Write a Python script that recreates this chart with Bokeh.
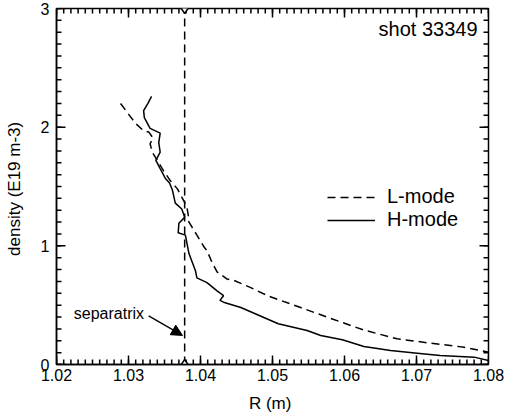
import numpy as np
from bokeh.plotting import figure
from bokeh.models import (Range1d, SingleIntervalTicker, Label, Arrow,
                          NormalHead, Legend, LegendItem)
from bokeh.embed import file_html
from bokeh.resources import INLINE

# ---- data ----
h_r = [1.0332, 1.0327, 1.0321, 1.0322, 1.0330, 1.0344, 1.0342, 1.0344, 1.0338, 1.0344,
       1.0351, 1.0357, 1.0361, 1.0365, 1.0374, 1.0378, 1.0370, 1.0369, 1.0379, 1.0384,
       1.0393, 1.0395, 1.0409, 1.0423, 1.0432, 1.0427, 1.0432, 1.0456, 1.0508, 1.0548,
       1.0567, 1.0597, 1.0627, 1.0664, 1.0701, 1.0733, 1.0780, 1.0800]
h_n = [2.26, 2.20, 2.14, 2.08, 1.99, 1.95, 1.87, 1.79, 1.72, 1.65,
       1.57, 1.53, 1.47, 1.36, 1.31, 1.24, 1.19, 1.11, 1.09, 0.935,
       0.79, 0.73, 0.69, 0.62, 0.58, 0.54, 0.525, 0.48, 0.343, 0.286,
       0.244, 0.208, 0.152, 0.118, 0.095, 0.076, 0.062, 0.034]

l_r = [1.0289, 1.0300, 1.0310, 1.0321, 1.0328, 1.0334, 1.0330, 1.0333, 1.0340, 1.0349,
       1.0358, 1.0368, 1.0374, 1.0381, 1.0383, 1.0383, 1.0389, 1.0395, 1.0405, 1.0409,
       1.0416, 1.0423, 1.0430, 1.0437, 1.0446, 1.0469, 1.0493, 1.0539, 1.0594, 1.0627,
       1.0673, 1.0719, 1.0766, 1.0800]
l_n = [2.20, 2.11, 2.03, 1.97, 1.96, 1.91, 1.86, 1.79, 1.72, 1.63,
       1.55, 1.48, 1.41, 1.33, 1.26, 1.21, 1.15, 1.09, 0.99, 0.96,
       0.86, 0.78, 0.75, 0.72, 0.71, 0.65, 0.58, 0.48, 0.36, 0.29,
       0.217, 0.18, 0.146, 0.104]

separatrix_r = 1.0378
y_span = [0, 3]
x_lim = (1.02, 1.08)
y_lim = (0, 3)
x_major = [1.02, 1.03, 1.04, 1.05, 1.06, 1.07, 1.08]
y_major = [0, 1, 2, 3]
shot_text = "shot 33349"

# minor tick positions (every 0.001 in R, every 0.1 in density)
x_minor = [float(v) for v in np.linspace(x_lim[0], x_lim[1], 61)]
y_minor = [float(v) for v in np.linspace(y_lim[0], y_lim[1], 31)]

FONT = "Liberation Sans"
FRAME_W, FRAME_H = 432, 356

p = figure(width=506, height=418, output_backend="svg", toolbar_location=None,
           x_range=Range1d(*x_lim), y_range=Range1d(*y_lim),
           min_border_left=56, min_border_right=18, min_border_top=8, min_border_bottom=54,
           x_axis_label="R  (m)", y_axis_label="density  (E19 m-3)")
p.grid.visible = False
p.outline_line_color = "black"
p.outline_line_width = 1.5


def style_axis(ax):
    ax.axis_line_color = "black"
    ax.axis_line_width = 1.5
    ax.major_tick_line_color = None
    ax.minor_tick_line_color = None
    ax.major_tick_out = 0
    ax.minor_tick_out = 0
    ax.major_label_text_font = FONT
    ax.major_label_text_color = "black"
    ax.major_label_text_font_size = "16px"
    ax.axis_label_text_font = FONT
    ax.axis_label_text_font_style = "normal"
    ax.axis_label_text_color = "black"
    ax.axis_label_text_font_size = "17px"


xa = p.xaxis[0]
xa.ticker = SingleIntervalTicker(interval=0.01, num_minor_ticks=10)
style_axis(xa)
xa.major_label_standoff = 4
xa.axis_label_standoff = 10

ya = p.yaxis[0]
ya.ticker = SingleIntervalTicker(interval=1, num_minor_ticks=10)
style_axis(ya)
ya.major_label_standoff = 7
ya.axis_label_standoff = 14

# inward ticks on all four sides, drawn as one broken line per side/kind
dx_px = (x_lim[1] - x_lim[0]) / FRAME_W
dy_px = (y_lim[1] - y_lim[0]) / FRAME_H
nan = float("nan")


def tick_path(positions, base, length, vertical):
    a, b = [], []
    for t in positions:
        if vertical:
            a += [t, t, nan]
            b += [base, base + length, nan]
        else:
            a += [base, base + length, nan]
            b += [t, t, nan]
    return a, b


for xs, ln in ((x_major, 9), (x_minor, 5)):
    for base, sgn in ((y_lim[0], 1), (y_lim[1], -1)):
        tx, ty = tick_path(xs, base, sgn * ln * dy_px, True)
        p.line(tx, ty, line_color="black", line_width=1.5)
for ys, ln in ((y_major, 9), (y_minor, 5)):
    for base, sgn in ((x_lim[0], 1), (x_lim[1], -1)):
        tx, ty = tick_path(ys, base, sgn * ln * dx_px, False)
        p.line(tx, ty, line_color="black", line_width=1.5)

DASH = "8 5"
p.line([separatrix_r, separatrix_r], y_span, line_color="black", line_width=1.5,
       line_dash=DASH)
p.scatter([separatrix_r, separatrix_r], y_span, marker="diamond", size=10,
          fill_color="white", line_color="black", line_width=1.5)

rl = p.line(l_r, l_n, line_color="black", line_width=1.5, line_dash=DASH)
rh = p.line(h_r, h_n, line_color="black", line_width=1.5)

legend = Legend(items=[LegendItem(label="L-mode", renderers=[rl]),
                       LegendItem(label="H-mode", renderers=[rh])],
                location=(271, 133), padding=0, margin=0, spacing=0,
                glyph_width=48, glyph_height=20, label_height=20, label_standoff=12,
                label_text_font=FONT, label_text_font_size="20px",
                label_text_color="black", border_line_color=None,
                background_fill_alpha=0)
p.add_layout(legend)

p.add_layout(Label(x=x_lim[1], y=y_lim[1], text=shot_text,
                   x_offset=-11, y_offset=-20, text_align="right", text_baseline="middle",
                   text_font=FONT, text_font_size="20px", text_color="black"))

p.add_layout(Label(x=1.0224, y=0.43, text="separatrix", text_align="left",
                   text_baseline="middle", text_font=FONT, text_font_size="16px",
                   text_color="black"))
p.add_layout(Arrow(x_start=1.0328, y_start=0.41, x_end=1.0375, y_end=0.245,
                   line_color="black", line_width=1.3,
                   end=NormalHead(size=11, fill_color="black", line_color="black")))

open("out.html", "w").write(file_html(p, INLINE))
